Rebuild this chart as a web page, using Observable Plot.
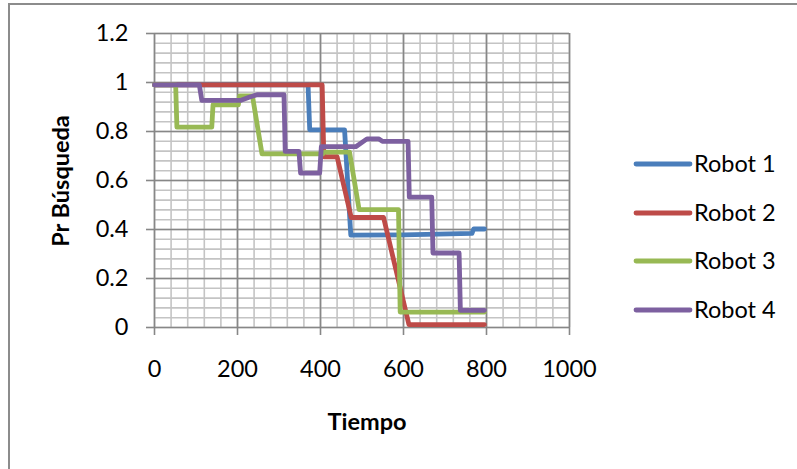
<!DOCTYPE html>
<html>
<head>
<meta charset="utf-8">
<script src="https://cdn.jsdelivr.net/npm/d3@7"></script>
<script src="https://cdn.jsdelivr.net/npm/@observablehq/plot@0.6"></script>
<style>
  html, body { margin: 0; padding: 0; background: white; }
</style>
</head>
<body>
<div id="chart"></div>
<script>
// ---- data ----
const seriesNames = ["Robot 1", "Robot 2", "Robot 3", "Robot 4"];
const seriesColors = ["#4A7EBB", "#BE4B48", "#98B954", "#7D60A0"];

// [Tiempo, Pr Búsqueda]
const robot1 = [[0,0.99],[370,0.99],[374,0.807],[458,0.807],[473,0.377],[600,0.378],[765,0.384],[769,0.402],[795,0.402]];
const robot2 = [[0,0.99],[404,0.99],[408,0.697],[440,0.697],[474,0.449],[552,0.449],[613,0.012],[795,0.012]];
const robot3 = [[0,0.99],[51,0.99],[54,0.818],[138,0.818],[141,0.909],[202,0.909],[205,0.945],[236,0.945],[259,0.709],[405,0.709],[410,0.716],[470,0.716],[493,0.481],[588,0.481],[592,0.063],[795,0.063]];
const robot4 = [[0,0.99],[108,0.99],[114,0.927],[207,0.927],[228,0.94],[247,0.95],[312,0.95],[315,0.719],[348,0.719],[352,0.63],[398,0.63],[402,0.738],[485,0.738],[512,0.77],[540,0.77],[549,0.76],[611,0.76],[614,0.532],[668,0.532],[671,0.304],[734,0.304],[737,0.07],[795,0.07]];
const robots = [robot1, robot2, robot3, robot4];

const xTicks = [0, 200, 400, 600, 800, 1000];
const yTicks = [0, 0.2, 0.4, 0.6, 0.8, 1, 1.2];
const xMinor = d3.range(0, 1001, 40);
const yMinor = d3.range(0, 31).map(i => i * 0.04);

const xLabel = "Tiempo";
const yLabel = "Pr Búsqueda";

// ---- chart ----
const font = "Lato, 'Open Sans', sans-serif";
const fs = "23.5px";
const major = "#878787", minor = "#c4c4c4";

const chart = Plot.plot({
  width: 797,
  height: 469,
  marginLeft: 154,
  marginRight: 228,
  marginTop: 33,
  marginBottom: 142,
  x: { domain: [0, 1000] },
  y: { domain: [0, 1.2] },
  style: { fontFamily: font, fontSize: fs, color: "black", background: "white", overflow: "visible" },
  marks: [
    Plot.ruleX(xMinor, { stroke: minor, strokeWidth: 1.6 }),
    Plot.ruleY(yMinor, { stroke: minor, strokeWidth: 1.6 }),
    Plot.ruleX(xTicks, { stroke: major, strokeWidth: 1.6 }),
    Plot.ruleY(yTicks, { stroke: major, strokeWidth: 1.6 }),
    Plot.axisX({ ticks: xTicks, tickSize: 8, tickPadding: 25, stroke: major, strokeWidth: 1.6, label: null, tickFormat: d => String(d) }),
    Plot.axisY({ ticks: yTicks, tickSize: 8, tickPadding: 18, stroke: major, strokeWidth: 1.6, label: null, tickFormat: d => String(d) }),
    ...robots.map((r, i) => Plot.line(r, {
      x: d => d[0], y: d => d[1],
      stroke: seriesColors[i], strokeWidth: 4.8,
      strokeLinejoin: "round", strokeLinecap: "round"
    }))
  ]
});

document.getElementById("chart").appendChild(chart);

const svg = d3.select(chart);

// outer chart-area border
svg.insert("rect", ":first-child")
  .attr("x", 9).attr("y", 4).attr("width", 820).attr("height", 500)
  .attr("fill", "none").attr("stroke", "#8c8c8c").attr("stroke-width", 2);

// axis titles
svg.append("text")
  .attr("x", 367).attr("y", 430)
  .attr("text-anchor", "middle")
  .attr("font-family", font).attr("font-weight", "bold").attr("font-size", fs)
  .attr("fill", "black")
  .text(xLabel);

svg.append("text")
  .attr("transform", "translate(69,181) rotate(-90)")
  .attr("text-anchor", "middle")
  .attr("font-family", font).attr("font-weight", "bold").attr("font-size", fs)
  .attr("fill", "black")
  .text(yLabel);

// legend
const legendRows = [164, 213, 261, 310];
const lg = svg.append("g");
seriesNames.forEach((name, i) => {
  lg.append("line")
    .attr("x1", 636).attr("x2", 690)
    .attr("y1", legendRows[i]).attr("y2", legendRows[i])
    .attr("stroke", seriesColors[i]).attr("stroke-width", 4.8)
    .attr("stroke-linecap", "round");
  lg.append("text")
    .attr("x", 694).attr("y", legendRows[i]).attr("dy", "0.36em")
    .attr("text-anchor", "start")
    .attr("font-family", font).attr("font-size", fs).attr("fill", "black")
    .text(name);
});
</script>
</body>
</html>
